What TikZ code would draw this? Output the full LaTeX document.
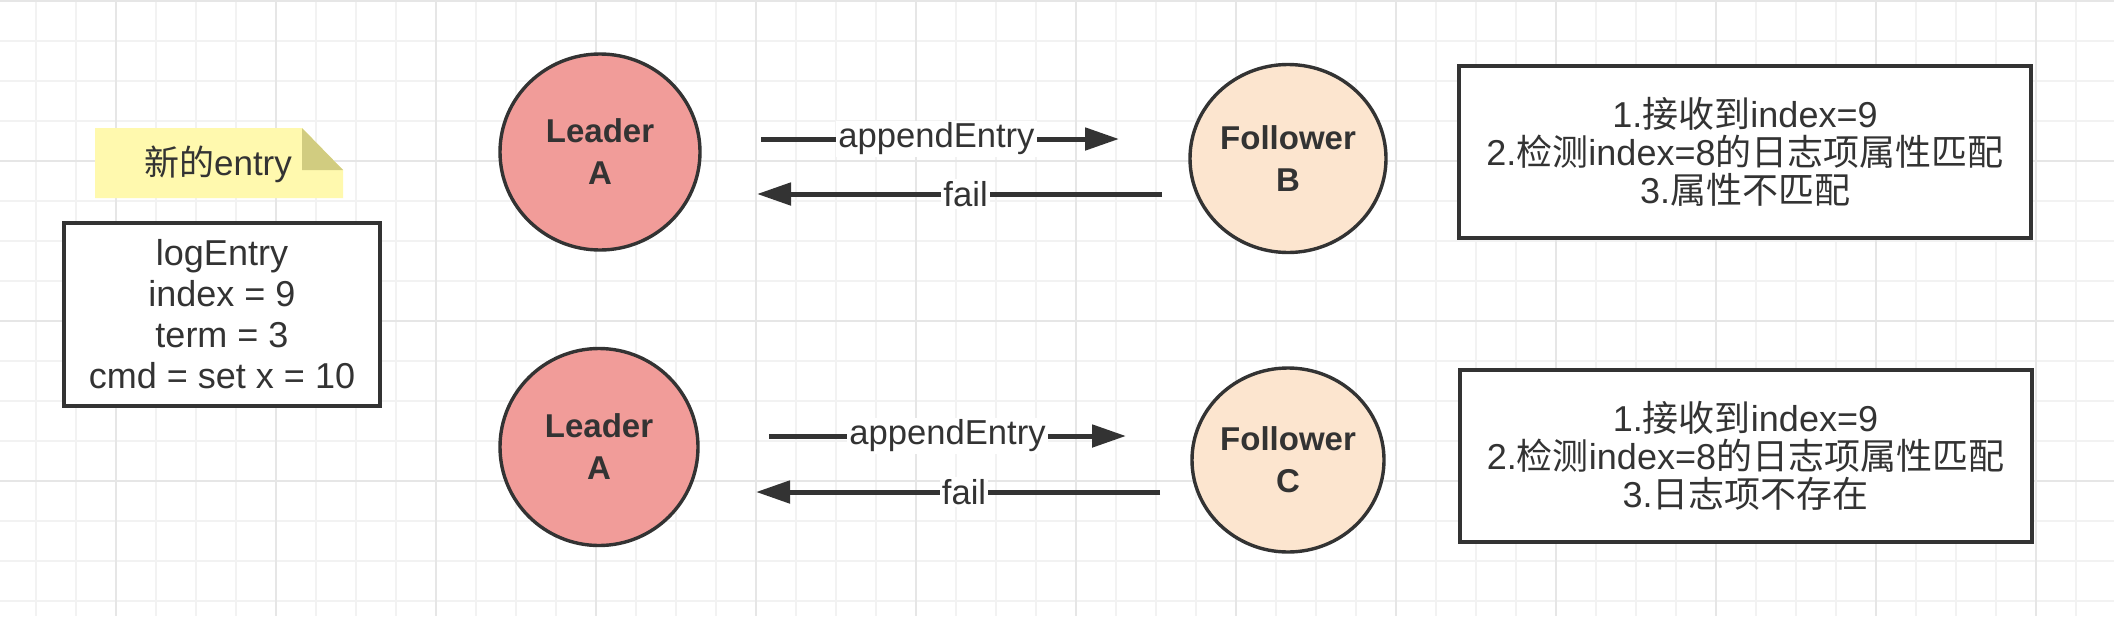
\documentclass[tikz,border=0pt]{standalone}
\usepackage{fontspec}
\setmainfont{Liberation Sans}
\newfontfamily\cjk{Noto Sans CJK SC}
\usetikzlibrary{arrows.meta,shapes.geometric}
\definecolor{ink}{HTML}{333333}
\definecolor{gridlight}{HTML}{F2F2F2}
\definecolor{griddark}{HTML}{E6E6E6}
\definecolor{leaderfill}{HTML}{F19C99}
\definecolor{followerfill}{HTML}{FCE5CF}
\definecolor{notefill}{HTML}{FFF9AE}
\definecolor{notefold}{HTML}{D1CC80}
\tikzset{
  leadernode/.style={ellipse, draw=ink, line width=1.7pt, fill=leaderfill, inner sep=0pt,
    align=center, text=ink, font=\bfseries\fontsize{16.5}{21}\selectfont},
  followernode/.style={ellipse, draw=ink, line width=1.7pt, fill=followerfill, inner sep=0pt,
    align=center, text=ink, font=\bfseries\fontsize{16.5}{21}\selectfont},
  infobox/.style={rectangle, draw=ink, line width=2pt, fill=white, inner sep=0pt,
    align=center, text=ink, font=\fontsize{18}{19}\selectfont},
  msgarrow/.style={draw=ink, line width=2.5pt, -{Triangle[length=17pt,width=11pt]}},
  msglabel/.style={fill=white, inner xsep=1pt, inner ysep=1pt, text=ink,
    font=\fontsize{17.3}{19}\selectfont},
}
\begin{document}
\begin{tikzpicture}[x=0.5pt,y=-0.5pt]
\useasboundingbox (0,0) rectangle (2114,616);
\fill[white] (0,0) rectangle (2114,616);
% grid
\foreach \gx in {36,76,...,2114} \draw[gridlight, line width=0.9pt] (\gx,0) -- (\gx,616);
\foreach \gy in {1,41,...,616} \draw[gridlight, line width=0.9pt] (0,\gy) -- (2114,\gy);
\foreach \gx in {116,276,...,2114} \draw[griddark, line width=0.9pt] (\gx,0) -- (\gx,616);
\foreach \gy in {1,161,...,616} \draw[griddark, line width=0.9pt] (0,\gy) -- (2114,\gy);

% note
\fill[notefill] (95,128) -- (302,128) -- (343,170) -- (343,198) -- (95,198) -- cycle;
\fill[notefold] (302,128) -- (302,170) -- (343,170) -- cycle;
\node[text=ink, font=\fontsize{17.5}{19}\selectfont, inner sep=0pt] (note) at (218,164) {{\cjk 新的}entry};

% log entry box
\node[infobox, minimum width=158pt, minimum height=91.5pt, font=\fontsize{18}{20.4}\selectfont] (log) at (222,314)
  {logEntry\\index = 9\\term = 3\\cmd = set x = 10};

% top row
\node[leadernode, minimum width=100pt, minimum height=98pt] (LA1) at (600,152) {Leader\\A};
\node[followernode, minimum width=98pt, minimum height=94pt] (FB) at (1288,158.5) {Follower\\B};
\node[infobox, minimum width=286pt, minimum height=86pt] (boxB) at (1745,152)
  {1.{\cjk 接收到}index=9\\2.{\cjk 检测}index=8{\cjk 的日志项属性匹配}\\3.{\cjk 属性不匹配}};

\coordinate (t1s) at (761,139);
\coordinate (t1e) at (1119,139);
\coordinate (t2s) at (1162,194);
\coordinate (t2e) at (757,194);
\draw[msgarrow] (t1s) -- node[msglabel, pos=0.49] (lblT1) {appendEntry} (t1e);
\draw[msgarrow] (t2s) -- node[msglabel, pos=0.485] (lblT2) {fail} (t2e);

% bottom row
\node[leadernode, minimum width=99pt, minimum height=98.5pt] (LA2) at (599,447) {Leader\\A};
\node[followernode, minimum width=96pt, minimum height=92pt] (FC) at (1288,460) {Follower\\C};
\node[infobox, minimum width=286pt, minimum height=86pt] (boxC) at (1745.5,455.5)
  {1.{\cjk 接收到}index=9\\2.{\cjk 检测}index=8{\cjk 的日志项属性匹配}\\3.{\cjk 日志项不存在}};

\coordinate (b1s) at (769,436);
\coordinate (b1e) at (1126,436);
\coordinate (b2s) at (1160,492);
\coordinate (b2e) at (756,492);
\draw[msgarrow] (b1s) -- node[msglabel, pos=0.5] (lblB1) {appendEntry} (b1e);
\draw[msgarrow] (b2s) -- node[msglabel, pos=0.485] (lblB2) {fail} (b2e);
\end{tikzpicture}
\end{document}
